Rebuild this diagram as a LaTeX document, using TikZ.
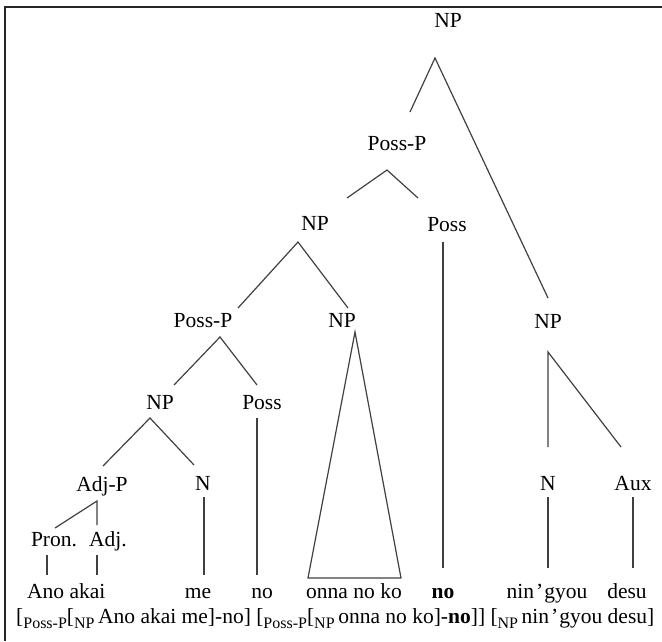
\documentclass[tikz,border=0pt]{standalone}
\usepackage{fontspec}
\setmainfont{Liberation Serif}
\begin{document}
\begin{tikzpicture}[x=1pt,y=-1pt,
  lbl/.style={anchor=base,inner sep=0pt,font=\fontsize{21.5}{24}\selectfont},
  branch/.style={draw=black!75,line width=1.2pt},
  frameline/.style={draw=black!85,line width=2pt}]
\useasboundingbox (0,0) rectangle (662,641);
\newcommand{\lowsub}[1]{\raisebox{-5pt}{\fontsize{16}{16}\selectfont #1}}
\newcommand{\ninapos}{nin\kern2pt’\kern1pt gyou}

% frame
\draw[frameline] (5,641) -- (5,7) -- (662,7);

% category labels
\node[lbl] (np0) at (448,27) {NP};
\node[lbl] (pp1) at (397,150) {Poss-P};
\node[lbl] (np1) at (315,230) {NP};
\node[lbl] (poss1) at (447,231) {Poss};
\node[lbl] (pp2) at (203,327) {Poss-P};
\node[lbl] (np2) at (342,327) {NP};
\node[lbl] (np3) at (548,328) {NP};
\node[lbl] (np4) at (160,409) {NP};
\node[lbl] (poss2) at (262,409) {Poss};
\node[lbl] (adjp) at (102,491) {Adj-P};
\node[lbl] (n1) at (203,490) {N};
\node[lbl] (n2) at (548,490) {N};
\node[lbl] (aux) at (633,490) {Aux};
\node[lbl] (pron) at (54,546) {Pron.};
\node[lbl] (adj) at (108,546) {Adj.};

% words
\node[lbl,anchor=base west] (w1) at (27,598) {Ano akai};
\node[lbl] (w2) at (198,598) {me};
\node[lbl] (w3) at (262,598) {no};
\node[lbl] (w4) at (354,598) {onna no ko};
\node[lbl] (w5) at (443,598) {\textbf{no}};
\node[lbl] (w6) at (547,598) {\ninapos};
\node[lbl] (w7) at (627,598) {desu};

% bracketed gloss
\node[lbl,anchor=base west] (gloss) at (16,623)
  {[\lowsub{Poss-P}[\lowsub{NP}\,Ano akai me]-no] [\lowsub{Poss-P}[\lowsub{NP}\,onna no ko]-\textbf{no}]] [\lowsub{NP}\,\ninapos{} desu]};

% branch end points
\coordinate (np0a) at (435,58);
\coordinate (pp1t) at (410,112);
\coordinate (np3t) at (548,298);
\coordinate (pp1a) at (387,170);
\coordinate (np1t) at (347,198);
\coordinate (poss1t) at (418,198);
\coordinate (poss1a) at (443,242);
\coordinate (w5t) at (443,568);
\coordinate (np1a) at (298,242);
\coordinate (pp2t) at (238,308);
\coordinate (np2t) at (348,308);
\coordinate (pp2a) at (220,337);
\coordinate (np4t) at (174,385);
\coordinate (poss2t) at (257,385);
\coordinate (poss2a) at (257,418);
\coordinate (w3t) at (257,575);
\coordinate (np4a) at (150,418);
\coordinate (adjpt) at (103,466);
\coordinate (n1t) at (194,465);
\coordinate (adjpa) at (97,501);
\coordinate (pront) at (55,528);
\coordinate (adjt) at (97,525);
\coordinate (prona) at (47,555);
\coordinate (w1at) at (47,575);
\coordinate (adja) at (97,555);
\coordinate (w1bt) at (97,575);
\coordinate (n1a) at (204,497);
\coordinate (w2t) at (204,575);
\coordinate (np2a) at (355,332);
\coordinate (w4l) at (308,578);
\coordinate (w4r) at (401,578);
\coordinate (np3a) at (548,352);
\coordinate (n2t) at (548,447);
\coordinate (auxt) at (621,447);
\coordinate (n2a) at (548,497);
\coordinate (w6t) at (548,568);
\coordinate (auxa) at (633,497);
\coordinate (w7t) at (633,568);

% branches
\draw[branch] (pp1t) -- (np0a) -- (np3t);
\draw[branch] (np1t) -- (pp1a) -- (poss1t);
\draw[branch] (poss1a) -- (w5t);
\draw[branch] (pp2t) -- (np1a) -- (np2t);
\draw[branch] (np4t) -- (pp2a) -- (poss2t);
\draw[branch] (poss2a) -- (w3t);
\draw[branch] (adjpt) -- (np4a) -- (n1t);
\draw[branch] (pront) -- (adjpa) -- (adjt);
\draw[branch] (prona) -- (w1at);
\draw[branch] (adja) -- (w1bt);
\draw[branch] (n1a) -- (w2t);
\draw[branch] (w4l) -- (np2a) -- (w4r) -- cycle;
\draw[branch] (n2t) -- (np3a) -- (auxt);
\draw[branch] (n2a) -- (w6t);
\draw[branch] (auxa) -- (w7t);
\end{tikzpicture}
\end{document}
